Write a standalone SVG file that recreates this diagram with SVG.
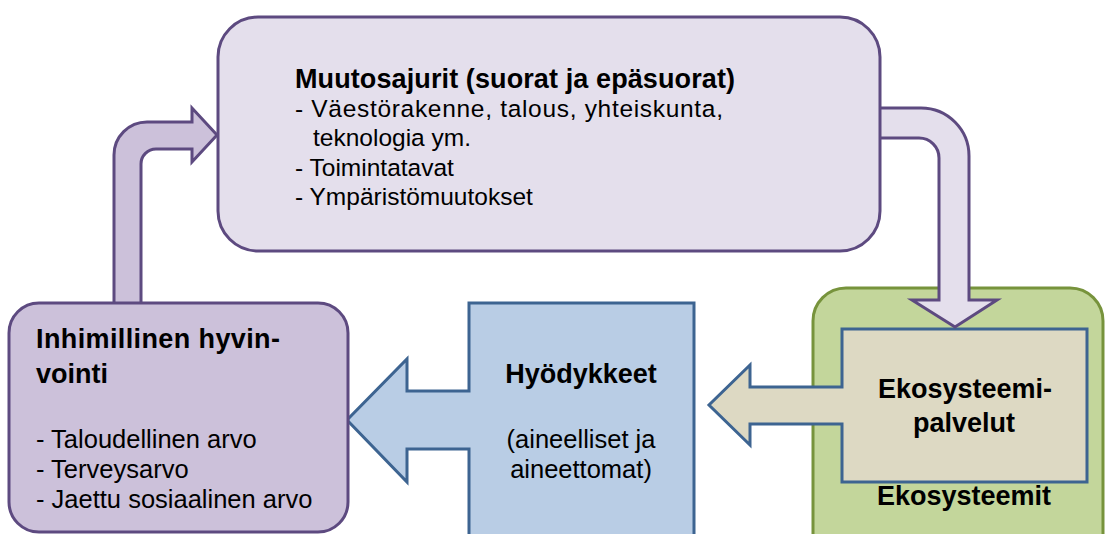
<svg xmlns="http://www.w3.org/2000/svg" width="1107" height="534" viewBox="0 0 1107 534">
<style>
.pl{fill:#e4dfec;stroke:#5d4a80;stroke-width:3;stroke-linejoin:miter}
.pm{fill:#ccc1da;stroke:#5d4a80;stroke-width:3}
.bl{fill:#b9cde5;stroke:#3d6491;stroke-width:3;stroke-linejoin:miter}
.tn{fill:#ddd9c3;stroke:#3d6491;stroke-width:3;stroke-linejoin:miter}
.gr{fill:#c3d69b;stroke:#77933c;stroke-width:3}
text{font-family:"Liberation Sans",Arial,sans-serif;fill:#000}
.b{font-weight:bold;font-size:27px}
.r{font-size:24.5px}
.r2{font-size:25.5px}
.c{text-anchor:middle}
</style>
<rect width="1107" height="534" fill="#fff"/>
<g id="node-ekosysteemit">
<rect class="gr" x="813" y="288" width="290" height="280" rx="33"/>
<text class="b c" x="964" y="505">Ekosysteemit</text>
</g>
<g id="node-ekosysteemipalvelut">
<path class="tn" d="M842,329 L1087,329 L1087,482 L842,482 L842,424 L750,424 L750,445 L709,405 L750,365 L750,387 L842,387 Z"/>
<text class="b c" x="965" y="398">Ekosysteemi-</text>
<text class="b c" x="964" y="432">palvelut</text>
</g>
<g id="node-hyodykkeet">
<path class="bl" d="M469,303 L694,303 L694,540 L469,540 L469,449 L407,449 L407,482 L347,420 L407,359 L407,391 L469,391 Z"/>
<text class="b c" x="581" y="383">Hyödykkeet</text>
<text class="r2 c" x="581" y="448">(aineelliset ja</text>
<text class="r2 c" x="581" y="478">aineettomat)</text>
</g>
<g id="connectors">
<path id="arrow-up" class="pm" d="M114,305 L114,155 A33,33 0 0 1 147,122 L192,122 L192,108 L217,135 L192,162 L192,149 L156,149 A15,15 0 0 0 141,164 L141,305 Z"/>
<path id="arrow-down" class="pl" d="M870,108 L921,108 A48,48 0 0 1 969,156 L969,300 L997,300 L955,327 L912,300 L939,300 L939,158 A20,20 0 0 0 919,138 L870,138 Z"/>
</g>
<g id="node-muutosajurit">
<rect class="pl" x="218" y="17" width="662" height="234" rx="40"/>
<text class="b" x="295" y="88" textLength="440">Muutosajurit (suorat ja epäsuorat)</text>
<text class="r" x="295" y="117" textLength="428">- Väestörakenne, talous, yhteiskunta,</text>
<text class="r" x="313" y="146">teknologia ym.</text>
<text class="r" x="295" y="176">- Toimintatavat</text>
<text class="r" x="295" y="205">- Ympäristömuutokset</text>
</g>
<g id="node-hyvinvointi">
<rect class="pm" x="9" y="303" width="339" height="229" rx="30"/>
<text class="b" x="36" y="348" textLength="244">Inhimillinen hyvin-</text>
<text class="b" x="36" y="383">vointi</text>
<text class="r2" x="36" y="448">- Taloudellinen arvo</text>
<text class="r2" x="36" y="478">- Terveysarvo</text>
<text class="r2" x="36" y="508">- Jaettu sosiaalinen arvo</text>
</g>
</svg>
